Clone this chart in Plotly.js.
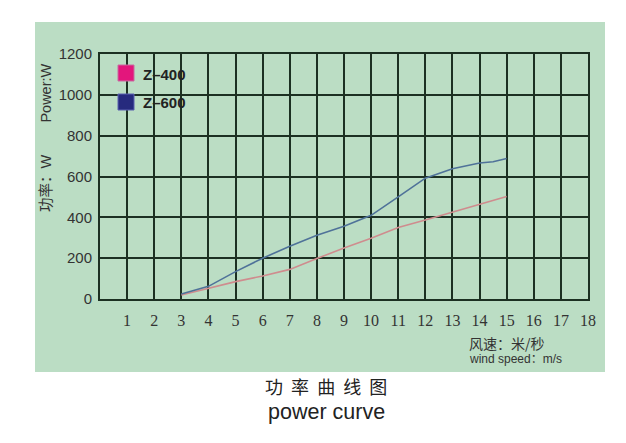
<!DOCTYPE html>
<html><head><meta charset="utf-8">
<script src="https://cdn.plot.ly/plotly-3.0.1.min.js"></script>
<style>html,body{margin:0;padding:0;background:#fff;}#chart{width:626px;height:443px;}</style>
</head><body><div id="chart"></div>
<script>
var windSpeed = [3, 4, 5, 6, 7, 8, 9, 10, 11, 12, 13, 14, 14.5, 15];
var z600 = [25, 62, 134, 200, 258, 312, 356, 410, 500, 592, 638, 666, 672, 688];
var z400 = [20, 54, 85, 113, 145, 198, 250, 298, 350, 387, 426, 464, 483, 502];
var xTicks = [1,2,3,4,5,6,7,8,9,10,11,12,13,14,15,16,17,18];
var yTicks = [0,200,400,600,800,1000,1200];
var seriesNames = ['Z–400','Z–600'];
var seriesColors = ['#e3167c','#262a7e'];

var gridC = '#1c3022';
var traces = [
  {x: windSpeed, y: z400, mode:'lines', line:{color:'#cf8c8e', width:1.6}, showlegend:false, hoverinfo:'skip'},
  {x: windSpeed, y: z600, mode:'lines', line:{color:'#4f7299', width:1.6}, showlegend:false, hoverinfo:'skip'}
];
function px(x){return (x-100)/488;}
function py(y){return (299-y)/245;}
var shapes = [
  {type:'rect', xref:'paper', yref:'paper', x0:px(35), x1:px(605), y0:py(372), y1:py(22), fillcolor:'#bbddc4', line:{width:0}, layer:'below'},
  {type:'rect', xref:'paper', yref:'paper', x0:px(118), x1:px(134), y0:py(81), y1:py(65), fillcolor:seriesColors[0], line:{width:1,color:'#c86aa0'}},
  {type:'rect', xref:'paper', yref:'paper', x0:px(118), x1:px(134), y0:py(110), y1:py(94), fillcolor:seriesColors[1], line:{width:1,color:'#5a60b0'}}
];
var annotations = [
  {xref:'paper', yref:'paper', x:px(141), y:py(74), xanchor:'left', yanchor:'middle', text:'<b>'+seriesNames[0]+'</b>', showarrow:false, font:{family:'Liberation Sans, Arial', size:15, color:'#222'}},
  {xref:'paper', yref:'paper', x:px(141), y:py(103), xanchor:'left', yanchor:'middle', text:'<b>'+seriesNames[1]+'</b>', showarrow:false, font:{family:'Liberation Sans, Arial', size:15, color:'#222'}},
  {xref:'paper', yref:'paper', x:px(46), y:py(138), xanchor:'center', yanchor:'middle', textangle:-90, text:'功率：W&nbsp;&nbsp;&nbsp;&nbsp;&nbsp;&nbsp;&nbsp;&nbsp;Power:W', showarrow:false, font:{family:'Liberation Sans, Noto Sans CJK SC', size:14.5, color:'#333'}},
  {xref:'paper', yref:'paper', x:px(467), y:py(343), xanchor:'left', yanchor:'middle', text:'风速：米/秒', showarrow:false, font:{family:'Noto Sans CJK SC', size:14, color:'#333'}},
  {xref:'paper', yref:'paper', x:px(467), y:py(359), xanchor:'left', yanchor:'middle', text:'wind speed：m/s', showarrow:false, font:{family:'Liberation Sans, Noto Sans CJK SC', size:12, color:'#333'}},
  {xref:'paper', yref:'paper', x:px(326), y:py(386), xanchor:'center', yanchor:'middle', text:'功&nbsp;&nbsp;率&nbsp;&nbsp;曲&nbsp;&nbsp;线&nbsp;&nbsp;图', showarrow:false, font:{family:'Noto Sans CJK SC', size:18, color:'#222'}},
  {xref:'paper', yref:'paper', x:px(326), y:py(412), xanchor:'center', yanchor:'middle', text:'power curve', showarrow:false, font:{family:'Liberation Sans, Arial', size:21.5, color:'#222'}}
];
var layout = {
  width:626, height:443,
  margin:{l:100, r:38, t:54, b:144, pad:0},
  paper_bgcolor:'#ffffff', plot_bgcolor:'rgba(0,0,0,0)',
  showlegend:false,
  xaxis:{range:[0,18], tickvals:xTicks, ticktext:xTicks.map(String), showgrid:true, gridcolor:gridC, gridwidth:2,
    showline:true, linecolor:gridC, linewidth:2, mirror:true, zeroline:false, ticks:'', ticklabelstandoff:6,
    tickfont:{family:'Liberation Serif, Times New Roman', size:16, color:'#333'}, fixedrange:true},
  yaxis:{range:[0,1200], tickvals:yTicks, ticktext:yTicks.map(String), showgrid:true, gridcolor:gridC, gridwidth:2,
    showline:true, linecolor:gridC, linewidth:2, mirror:true, zeroline:false, ticks:'', ticklabelstandoff:3,
    tickfont:{family:'Liberation Sans, Arial', size:15, color:'#333'}, fixedrange:true},
  shapes:shapes, annotations:annotations
};
Plotly.newPlot('chart', traces, layout, {displayModeBar:false, staticPlot:true});
</script></body></html>
